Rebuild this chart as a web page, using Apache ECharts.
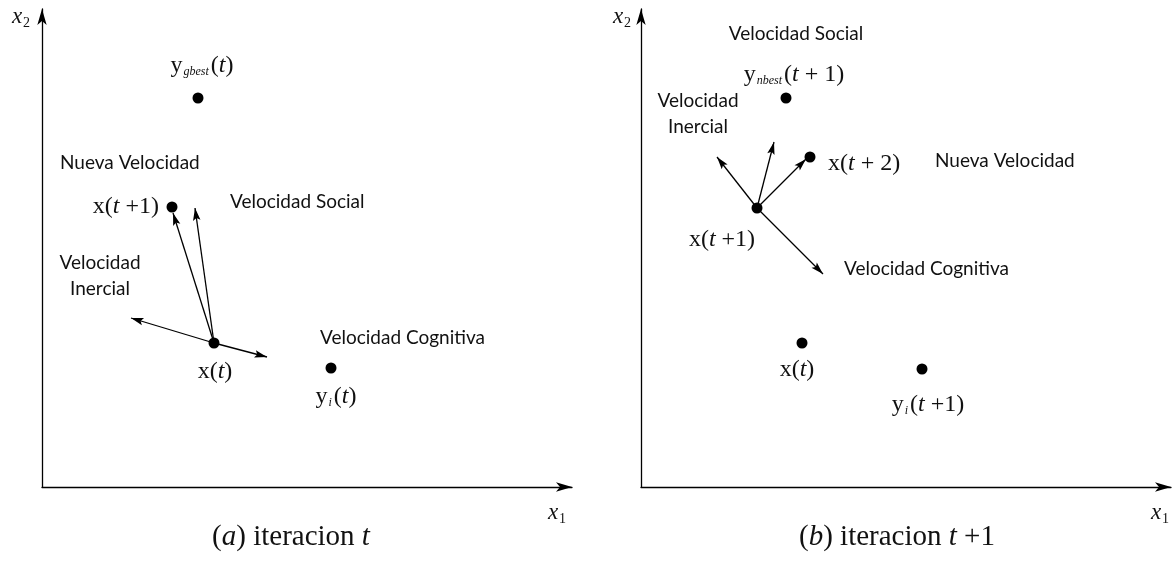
<!DOCTYPE html>
<html><head><meta charset="utf-8">
<script src="https://cdn.jsdelivr.net/npm/echarts@6/dist/echarts.min.js"></script>
<style>html,body{margin:0;padding:0;background:#fff}#c{width:1174px;height:561px}</style>
</head><body><div id="c"></div>
<script>
// ---------- DATA (arbitrary units in the x1/x2 plane) ----------
// Panel (a): iteracion t
const pointsA = [            // [id, x1, x2]
  ['ygbest', 15.6, 38.9],
  ['xt1a',   13.0, 28.0],
  ['xta',    17.2, 14.4],
  ['yia',    28.9, 11.9]
];
const originA = [17.2, 14.4]; // x(t): all velocity arrows start here
const arrowsA = [            // [velocity, end x1, end x2]
  ['nueva',     13.1, 27.4],
  ['social',    15.3, 27.9],
  ['inercial',   8.9, 16.9],
  ['cognitiva', 22.5, 13.0]
];
// Panel (b): iteracion t+1
const pointsB = [
  ['ynbest', 14.5, 38.9],
  ['xt2b',   16.9, 33.0],
  ['xt1b',   11.6, 27.9],
  ['xtb',    16.1, 14.4],
  ['yib',    28.1, 11.8]
];
const originB = [11.6, 27.9]; // x(t+1)
const arrowsB = [
  ['inercial',   7.6, 33.0],
  ['social',    13.3, 34.5],
  ['nueva',     16.5, 32.8],
  ['cognitiva', 18.2, 21.3]
];
const axisMaxX1 = 53.0;
const axisMaxX2 = 47.8;

// ---------- TEXTS ----------
const pointText = {
  ygbest: '{r|y}{sub|gbest}{r|(}{i|t}{r|)}',
  xt1a:   '{r|x(}{i|t}{r| +1)}',
  xta:    '{r|x(}{i|t}{r|)}',
  yia:    '{r|y}{sub|i}{r|(}{i|t}{r|)}',
  ynbest: '{r|y}{sub|nbest}{r|(}{i|t}{r| + 1)}',
  xt2b:   '{r|x(}{i|t}{r| + 2)}',
  xt1b:   '{r|x(}{i|t}{r| +1)}',
  xtb:    '{r|x(}{i|t}{r|)}',
  yib:    '{r|y}{sub|i}{r|(}{i|t}{r| +1)}'
};
// label placement relative to the dot (layout, not data)
const labelPlace = {
  ygbest: {offset: [4, -32], align: 'center'},
  xt1a:   {offset: [-13, 0], align: 'right'},
  xta:    {offset: [1, 29], align: 'center'},
  yia:    {offset: [5, 29], align: 'center'},
  ynbest: {offset: [8, -23], align: 'center'},
  xt2b:   {offset: [18, 7], align: 'left'},
  xt1b:   {offset: [-35, 32], align: 'center'},
  xtb:    {offset: [-5, 27], align: 'center'},
  yib:    {offset: [6, 36], align: 'center'}
};

const SERIF = '"Liberation Serif", "DejaVu Serif", serif';
const SANS = 'Lato, "Open Sans", sans-serif';
const mathRich = {
  r:   {fontFamily: SERIF, fontSize: 24, color: '#111'},
  i:   {fontFamily: SERIF, fontSize: 24, fontStyle: 'italic', color: '#111'},
  sub: {fontFamily: SERIF, fontSize: 12, fontStyle: 'italic', color: '#111', padding: [12, 2, 0, 1]}
};

const ARROW = 'path://M0,0 L3.6,12 L0,9.6 L-3.6,12 Z M-12,-12 L-12,-12 M12,12 L12,12';

function scatterSeries(points, idx) {
  return {
    type: 'scatter', xAxisIndex: idx, yAxisIndex: idx,
    symbolSize: 11, itemStyle: {color: '#000', opacity: 1}, z: 5,
    data: points.map(p => ({
      value: [p[1], p[2]], id: p[0],
      label: {
        show: true, position: 'inside',
        offset: labelPlace[p[0]].offset, align: labelPlace[p[0]].align,
        verticalAlign: 'middle',
        formatter: pointText[p[0]], rich: mathRich
      }
    }))
  };
}
function arrowSeries(origin, arrows, idx) {
  return {
    type: 'lines', coordinateSystem: 'cartesian2d', xAxisIndex: idx, yAxisIndex: idx,
    symbol: ['none', ARROW], symbolSize: [0, 25],
    lineStyle: {color: '#000', width: 1.3, opacity: 1, curveness: 0},
    silent: true, z: 4,
    data: arrows.map(a => ({coords: [origin, [a[1], a[2]]]}))
  };
}
function axisCommon(idx, max) {
  return {
    type: 'value', gridIndex: idx, min: 0, max: max,
    axisLine: {show: true, onZero: false, symbol: ['none', 'arrow'], symbolSize: [7, 16],
      lineStyle: {color: '#000', width: 1.3}},
    axisTick: {show: false}, axisLabel: {show: false}, splitLine: {show: false}
  };
}

function annot(text, x, y, align) {
  return {type: 'text', x: x, y: y, z: 10,
    style: {text: text, align: align || 'left', verticalAlign: 'middle',
      font: '19px ' + SANS, fill: '#111', lineHeight: 26}};
}
function mathText(text, x, y, size) {
  return {type: 'text', x: x, y: y, z: 10,
    style: {text: text, align: 'center', verticalAlign: 'middle',
      rich: {
        r:   {fontFamily: SERIF, fontSize: size, fill: '#111'},
        i:   {fontFamily: SERIF, fontSize: size, fontStyle: 'italic', fill: '#111'},
        s:   {fontFamily: SERIF, fontSize: Math.round(size * 0.6), fill: '#111', padding: [Math.round(size*0.5), 0, 0, 1]}
      }}};
}

const chart = echarts.init(document.getElementById('c'), null, {renderer: 'canvas'});
chart.setOption({
  animation: false,
  backgroundColor: '#fff',
  grid: [
    {left: 42, top: 9, width: 530, height: 478},
    {left: 641, top: 9, width: 530, height: 478}
  ],
  xAxis: [axisCommon(0, axisMaxX1), axisCommon(1, axisMaxX1)],
  yAxis: [axisCommon(0, axisMaxX2), axisCommon(1, axisMaxX2)],
  series: [
    arrowSeries(originA, arrowsA, 0),
    scatterSeries(pointsA, 0),
    arrowSeries(originB, arrowsB, 1),
    scatterSeries(pointsB, 1)
  ],
  graphic: [
    // panel (a)
    annot('Nueva Velocidad', 60, 163),
    annot('Velocidad Social', 230, 202),
    annot('Velocidad\nInercial', 100, 276, 'center'),
    annot('Velocidad Cognitiva', 320, 338),
    // panel (b)
    annot('Velocidad Social', 796, 34, 'center'),
    annot('Velocidad\nInercial', 698, 114, 'center'),
    annot('Nueva Velocidad', 935, 161),
    annot('Velocidad Cognitiva', 844, 269),
    // axis names
    mathText('{i|x}{s|2}', 21, 17, 23),
    mathText('{i|x}{s|2}', 622, 17, 23),
    mathText('{i|x}{s|1}', 557, 513, 23),
    mathText('{i|x}{s|1}', 1160, 513, 23),
    // captions
    mathText('{r|(}{i|a}{r|) iteracion }{i|t}', 291, 537, 29),
    mathText('{r|(}{i|b}{r|) iteracion }{i|t}{r| +1}', 897, 537, 29)
  ]
});
</script>
</body></html>
